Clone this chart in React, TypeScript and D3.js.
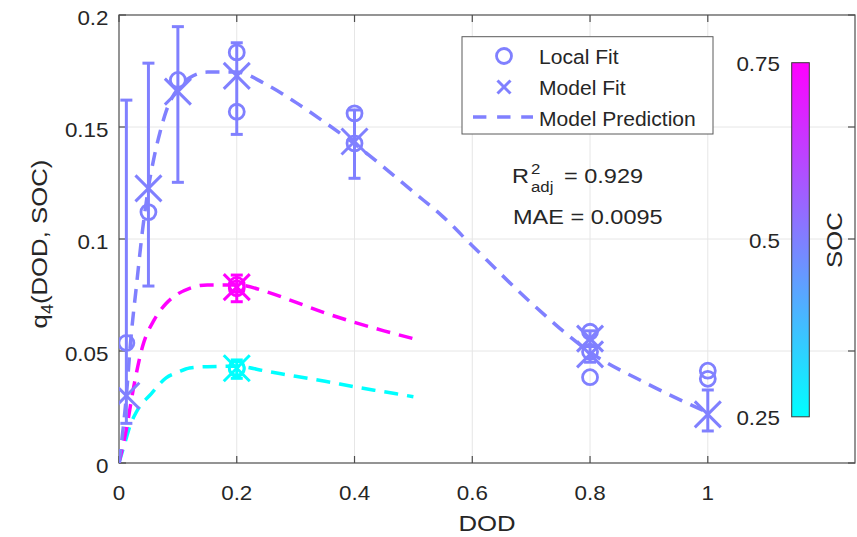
import React from "react";
import * as d3 from "d3";

// ---- data ----
const xTicks = [0, 0.2, 0.4, 0.6, 0.8, 1];
const yTicks = [0, 0.05, 0.1, 0.15, 0.2];
const yTickLabels = ["0", "0.05", "0.1", "0.15", "0.2"];
const cbTicks = [0.25, 0.5, 0.75];
const cbTickLabels = ["0.25", "0.5", "0.75"];

// Model prediction curves
const predDOD_50 = [0, 0.0125, 0.02, 0.03, 0.04, 0.05, 0.06, 0.07, 0.08, 0.09, 0.1, 0.12, 0.15, 0.2, 0.25, 0.3, 0.35, 0.4, 0.45, 0.5, 0.55, 0.6, 0.7, 0.8, 0.9, 1.0];
const predQ_50 = [0, 0.03, 0.055, 0.08, 0.104, 0.123, 0.137, 0.148, 0.157, 0.163, 0.167, 0.172, 0.1745, 0.1745, 0.169, 0.161, 0.152, 0.1425, 0.132, 0.121, 0.11, 0.097, 0.0715, 0.0495, 0.035, 0.0225];
const predDOD_75 = [0, 0.0125, 0.025, 0.04, 0.06, 0.08, 0.1, 0.12, 0.15, 0.2, 0.25, 0.3, 0.35, 0.4, 0.45, 0.5];
const predQ_75 = [0, 0.015, 0.034, 0.052, 0.064, 0.0712, 0.0755, 0.078, 0.0795, 0.0795, 0.0765, 0.0718, 0.067, 0.0628, 0.059, 0.0555];
const predDOD_25 = [0, 0.01, 0.02, 0.03, 0.055, 0.08, 0.1, 0.12, 0.15, 0.2, 0.25, 0.3, 0.35, 0.4, 0.45, 0.5];
const predQ_25 = [0, 0.009, 0.0175, 0.023, 0.031, 0.038, 0.0405, 0.0424, 0.043, 0.0432, 0.041, 0.0387, 0.0365, 0.034, 0.0318, 0.0296];

// Local fit (circles)
const localDOD = [0.0125, 0.05, 0.1, 0.2, 0.2, 0.4, 0.4, 0.8, 0.8, 0.8, 1, 1, 0.2, 0.2, 0.2, 0.2];
const localQ = [0.0536, 0.112, 0.171, 0.1833, 0.1568, 0.1561, 0.1427, 0.0586, 0.0497, 0.0383, 0.0412, 0.0376, 0.0795, 0.078, 0.0425, 0.042];
const localSOC = [0.5, 0.5, 0.5, 0.5, 0.5, 0.5, 0.5, 0.5, 0.5, 0.5, 0.5, 0.5, 0.75, 0.75, 0.25, 0.25];

// Model fit (crosses with error bars)
const fitDOD = [0.0125, 0.05, 0.1, 0.2, 0.4, 0.8, 0.8, 1, 0.2, 0.2];
const fitQ = [0.03, 0.1226, 0.1658, 0.1728, 0.1435, 0.0555, 0.0485, 0.0217, 0.0785, 0.0423];
const fitLow = [0.0177, 0.079, 0.1253, 0.1467, 0.1271, 0.052, 0.045, 0.0143, 0.072, 0.0378];
const fitHigh = [0.162, 0.1785, 0.1948, 0.1876, 0.1576, 0.059, 0.052, 0.0326, 0.0839, 0.046];
const fitSOC = [0.5, 0.5, 0.5, 0.5, 0.5, 0.5, 0.5, 0.5, 0.75, 0.25];

const legendLabels = ["Local Fit", "Model Fit", "Model Prediction"];

// ---- layout ----
const W = 857, H = 537;
const left = 119, right = 855, top = 15, bottom = 463;
const FONT = "'Liberation Sans', Arial, Helvetica, sans-serif";
const TXT = "#262626";
const SX = 1.12;

const x = d3.scaleLinear().domain([0, 1.25]).range([left, right]);
const y = d3.scaleLinear().domain([0, 0.2]).range([bottom, top]);
const color = d3.scaleLinear<string>().domain([0.25, 0.75]).range(["#00ffff", "#ff00ff"]);
const cbY = d3.scaleLinear().domain([0.25, 0.75]).range([416.8, 62.7]);

function T({ x: tx, y: ty, size, anchor = "start", rotate = 0, children, sx = SX }: any) {
  return (
    <text
      transform={`translate(${tx},${ty}) rotate(${rotate}) scale(${sx},1)`}
      fontSize={size}
      textAnchor={anchor}
      fontFamily={FONT}
      fill={TXT}
    >
      {children}
    </text>
  );
}

function Cross({ cx, cy, s, c, w }: any) {
  return (
    <g stroke={c} strokeWidth={w} strokeLinecap="butt">
      <line x1={cx - s} y1={cy - s} x2={cx + s} y2={cy + s} />
      <line x1={cx - s} y1={cy + s} x2={cx + s} y2={cy - s} />
    </g>
  );
}

export default function App() {
  const line = d3
    .line<[number, number]>()
    .x((d) => x(d[0]))
    .y((d) => y(d[1]))
    .curve(d3.curveMonotoneX);

  const preds = [
    { dod: predDOD_25, q: predQ_25, soc: 0.25 },
    { dod: predDOD_75, q: predQ_75, soc: 0.75 },
    { dod: predDOD_50, q: predQ_50, soc: 0.5 },
  ];

  const blue = color(0.5);
  const dash = "14 9";

  return (
    <svg
      width={W}
      height={H}
      style={{ position: "absolute", left: 0, top: 0, background: "#fff" }}
    >
      <defs>
        <linearGradient id="cool" x1="0" y1="1" x2="0" y2="0">
          <stop offset="0%" stopColor="#00ffff" />
          <stop offset="100%" stopColor="#ff00ff" />
        </linearGradient>
        <clipPath id="plotclip">
          <rect x={left} y={top} width={right - left} height={bottom - top} />
        </clipPath>
      </defs>
      <rect x={0} y={0} width={W} height={H} fill="#fff" />

      {/* grid */}
      <g stroke="#e6e6e6" strokeWidth={1}>
        {xTicks.slice(1).map((t) => (
          <line key={"gx" + t} x1={x(t)} x2={x(t)} y1={top} y2={bottom} />
        ))}
        {yTicks.slice(1, -1).map((t) => (
          <line key={"gy" + t} x1={left} x2={right} y1={y(t)} y2={y(t)} />
        ))}
      </g>

      {/* axes box and ticks */}
      <g stroke="#4d4d4d" strokeWidth={1.2} fill="none">
        <rect x={left} y={top} width={right - left} height={bottom - top} />
        {xTicks.map((t) => (
          <g key={"tx" + t}>
            <line x1={x(t)} x2={x(t)} y1={bottom} y2={bottom - 7} />
            <line x1={x(t)} x2={x(t)} y1={top} y2={top + 7} />
          </g>
        ))}
        {yTicks.map((t) => (
          <g key={"ty" + t}>
            <line x1={left} x2={left + 7} y1={y(t)} y2={y(t)} />
            <line x1={right} x2={right - 7} y1={y(t)} y2={y(t)} />
          </g>
        ))}
      </g>

      {/* tick labels */}
      {xTicks.map((t) => (
        <T key={"lx" + t} x={x(t)} y={500} size={20} anchor="middle">
          {String(t)}
        </T>
      ))}
      {yTicks.map((t, i) => (
        <T key={"ly" + t} x={108.5} y={y(t) + 10} size={20} anchor="end">
          {yTickLabels[i]}
        </T>
      ))}

      {/* axis labels */}
      <T x={487} y={531} size={23}  anchor="middle">DOD</T>
      <text
        transform={`translate(47,244) rotate(-90) scale(${SX},1)`}
        fontSize={23}
        textAnchor="middle"
        fontFamily={FONT}
        fill={TXT}
      >
        q<tspan fontSize={16} dy={6}>4</tspan>
        <tspan dy={-6}>(DOD, SOC)</tspan>
      </text>

      <g clipPath="url(#plotclip)">
        {/* prediction lines */}
        {preds.map((p, i) => (
          <path
            key={"p" + i}
            d={line(p.dod.map((d, j) => [d, p.q[j]] as [number, number])) || ""}
            fill="none"
            stroke={color(p.soc)}
            strokeWidth={3.5}
            strokeDasharray={dash}
          />
        ))}

        {/* error bars + crosses */}
        {fitDOD.map((d, i) => {
          const c = color(fitSOC[i]);
          const cx = x(d);
          return (
            <g key={"f" + i} stroke={c} strokeWidth={3}>
              <line x1={cx} x2={cx} y1={y(fitLow[i])} y2={y(fitHigh[i])} />
              <line x1={cx - 6} x2={cx + 6} y1={y(fitLow[i])} y2={y(fitLow[i])} />
              <line x1={cx - 6} x2={cx + 6} y1={y(fitHigh[i])} y2={y(fitHigh[i])} />
              <Cross cx={cx} cy={y(fitQ[i])} s={13} c={c} w={3} />
            </g>
          );
        })}

        {/* local fit circles */}
        {localDOD.map((d, i) => (
          <circle
            key={"c" + i}
            cx={x(d)}
            cy={y(localQ[i])}
            r={7.5}
            fill="none"
            stroke={color(localSOC[i])}
            strokeWidth={2.8}
          />
        ))}
      </g>

      {/* legend */}
      <rect x={462} y={36.7} width={251} height={97.3} fill="#fff" stroke="#5a5a5a" strokeWidth={1} />
      <circle cx={504} cy={56} r={7.5} fill="none" stroke={blue} strokeWidth={2.8} />
      <Cross cx={504} cy={87} s={6.5} c={blue} w={3} />
      <line x1={473} x2={533} y1={117} y2={117} stroke={blue} strokeWidth={3.5} strokeDasharray="13.4 10.7" />
      <T x={539} y={63.6} size={19.5} sx={1.08}>{legendLabels[0]}</T>
      <T x={539} y={95.4} size={19.5} sx={1.08}>{legendLabels[1]}</T>
      <T x={539} y={125.5} size={19.5} sx={1.08}>{legendLabels[2]}</T>

      {/* annotation */}
      <T x={512} y={182.5} size={21}>R</T>
      <T x={531} y={174} size={15}>2</T>
      <T x={531} y={192} size={15}>adj</T>
      <T x={564} y={182.5} size={21}>= 0.929</T>
      <T x={513} y={224.3} size={21}>MAE = 0.0095</T>

      {/* colorbar */}
      <rect
        x={791.7}
        y={cbY(0.75)}
        width={17.6}
        height={cbY(0.25) - cbY(0.75)}
        fill="url(#cool)"
        stroke="#3a3a3a"
        strokeWidth={1}
      />
      {cbTicks.map((t, i) => (
        <T key={"cb" + t} x={780} y={cbY(t) + 8} size={20} anchor="end">
          {cbTickLabels[i]}
        </T>
      ))}
      <T x={842} y={240} size={23} anchor="middle" rotate={-90}>SOC</T>
    </svg>
  );
}
